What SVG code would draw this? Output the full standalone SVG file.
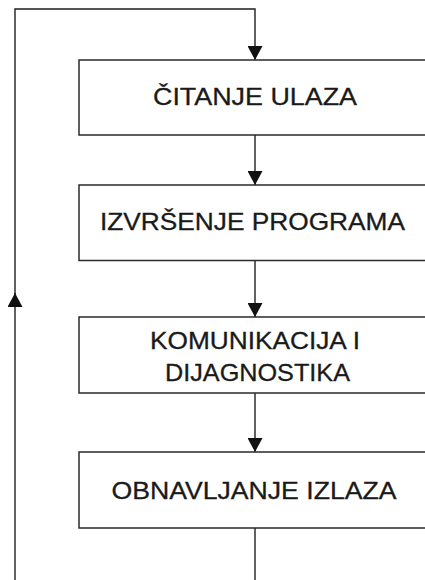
<svg xmlns="http://www.w3.org/2000/svg" width="425" height="580" viewBox="0 0 425 580">
  <style>
    .box { fill: #ffffff; stroke: #2a2a2a; stroke-width: 1.5; }
    .lbl { font-family: "Liberation Sans", Arial, sans-serif; font-size: 24.5px; fill: #1a1a1a; stroke: #1a1a1a; stroke-width: 0.3; text-anchor: middle; }
    .conn { fill: none; stroke: #1e1e1e; stroke-width: 1.4; }
  </style>
  <defs>
    <marker id="arrow" viewBox="0 0 14 15" refX="14" refY="7.5" markerWidth="14" markerHeight="15" markerUnits="userSpaceOnUse" orient="auto">
      <path d="M0,0 L14,7.5 L0,15 z" fill="#111111"/>
    </marker>
  </defs>
  <rect width="425" height="580" fill="#ffffff"/>

  <g id="connectors">
    <path class="conn" d="M15,580 V293" marker-end="url(#arrow)"/>
    <path class="conn" d="M15,294 V9 H255 V60" marker-end="url(#arrow)"/>
    <path class="conn" d="M255,135 V185" marker-end="url(#arrow)"/>
    <path class="conn" d="M255,260.5 V317" marker-end="url(#arrow)"/>
    <path class="conn" d="M255,393 V452" marker-end="url(#arrow)"/>
    <path class="conn" d="M255,528 V580"/>
  </g>

  <g id="node-citanje">
    <rect class="box" x="79" y="60" width="352" height="75"/>
    <text class="lbl" x="255" y="104.5" textLength="204" lengthAdjust="spacingAndGlyphs">ČITANJE ULAZA</text>
  </g>
  <g id="node-izvrsenje">
    <rect class="box" x="79" y="185" width="352" height="75.5"/>
    <text class="lbl" x="252.5" y="229.5" textLength="305" lengthAdjust="spacingAndGlyphs">IZVRŠENJE PROGRAMA</text>
  </g>
  <g id="node-komunikacija">
    <rect class="box" x="79" y="317" width="352" height="76"/>
    <text class="lbl" x="255" y="348.5" textLength="210" lengthAdjust="spacingAndGlyphs">KOMUNIKACIJA I</text>
    <text class="lbl" x="257.5" y="380.5" textLength="185" lengthAdjust="spacingAndGlyphs">DIJAGNOSTIKA</text>
  </g>
  <g id="node-obnavljanje">
    <rect class="box" x="79" y="452" width="352" height="76"/>
    <text class="lbl" x="254" y="498.5" textLength="285" lengthAdjust="spacingAndGlyphs">OBNAVLJANJE IZLAZA</text>
  </g>
</svg>
